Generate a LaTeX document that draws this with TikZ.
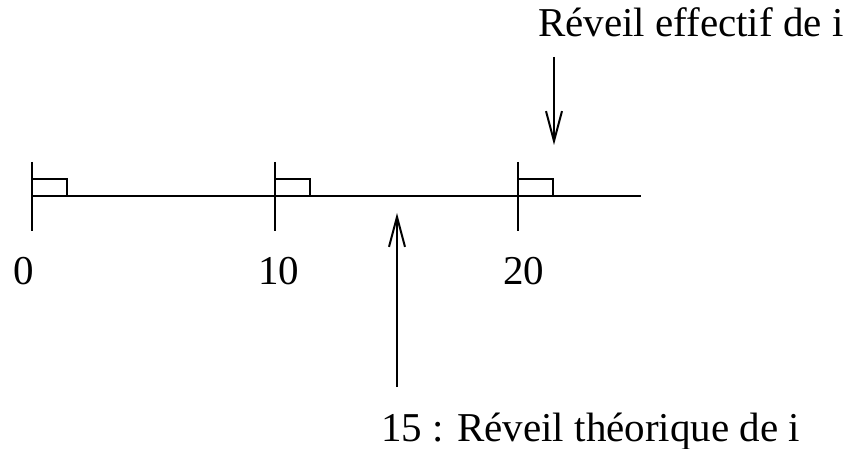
\documentclass[tikz,border=0pt]{standalone}
\usepackage{fontspec}
\setmainfont{Liberation Serif}
\usetikzlibrary{arrows.meta}
\begin{document}
\begin{tikzpicture}[x=0.5pt,y=-0.5pt,line width=1pt,
  barb/.style={-{Straight Barb[length=15pt,width=8pt]}},
  lbl/.style={anchor=base west,inner sep=0pt,font=\fontsize{20.5pt}{24pt}\selectfont}]
  \useasboundingbox (0,0) rectangle (852,449);
  \draw (32,196) -- (641,196);
  \foreach \x in {32,275,518} {
    \draw (\x,162) -- (\x,231);
    \draw (\x,179) -- (\x+35,179) -- (\x+35,196);
  }

  \node[lbl] (t0) at (12,284) {0};
  \node[lbl] (t10) at (257,284) {10};
  \node[lbl] (t20) at (502,284) {20};
  \node[lbl] (eff) at (537,37) {Réveil effectif de i};
  \node[lbl] (theo) at (380,441) {15 : Réveil théorique de i};

  \coordinate (effa) at (554,57);
  \coordinate (effb) at (554,145);
  \draw[barb] (effa) -- (effb);
  \coordinate (theoa) at (397,387);
  \coordinate (theob) at (397,213);
  \draw[barb] (theoa) -- (theob);
\end{tikzpicture}
\end{document}
